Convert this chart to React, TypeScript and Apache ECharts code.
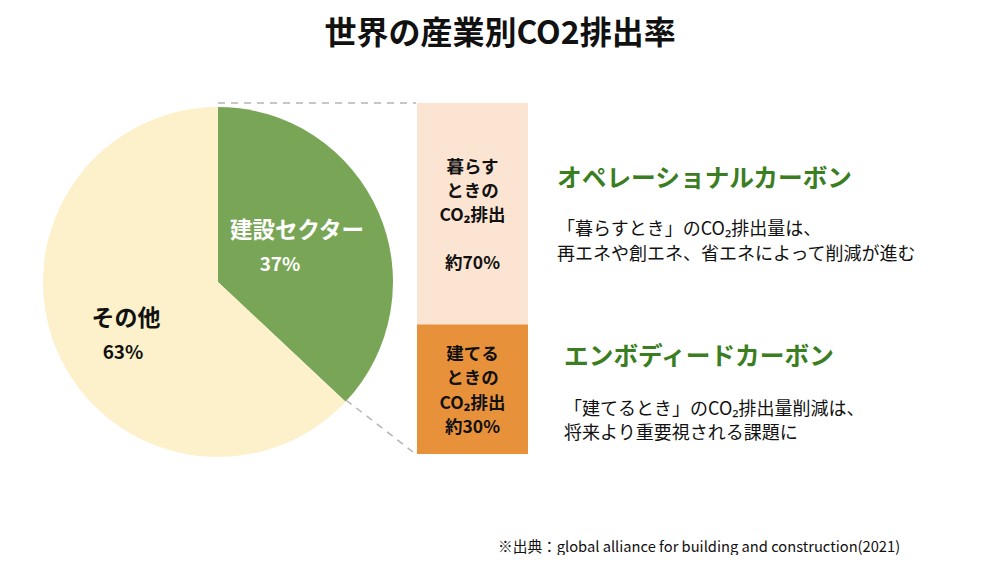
import React, { useEffect, useRef } from "react";
import * as echarts from "echarts";

const title = "世界の産業別CO2排出率";
const pieNames = ["建設セクター", "その他"];
const pieValues = [37, 63];
const pieColors = ["#79a656", "#fdf1cc"];
const barNames = ["建てるときのCO₂排出", "暮らすときのCO₂排出"];
const barShares = ["約30%", "約70%"];
const barHeights = [37, 63]; // drawn proportions in the picture
const barColors = ["#e8913b", "#fce4d2"];
const headings = ["オペレーショナルカーボン", "エンボディードカーボン"];
const descriptions = [
  ["「暮らすとき」のCO₂排出量は、", "再エネや創エネ、省エネによって削減が進む"],
  ["「建てるとき」のCO₂排出量削減は、", "将来より重要視される課題に"],
];
const source = "※出典：global alliance for building and construction(2021)";

const FONT = "'Noto Sans CJK JP', 'Noto Sans', sans-serif";

export default function App() {
  const ref = useRef<HTMLDivElement>(null);
  useEffect(() => {
    if (!ref.current) return;
    const chart = echarts.init(ref.current, null, { renderer: "svg" });
    const dash = { stroke: "#b5b5b5", lineWidth: 1.5, lineDash: [7, 6] };
    const txt = (x: number, y: number, style: any) => ({
      type: "text",
      x,
      y,
      z: 100,
      style: { fontFamily: FONT, verticalAlign: "middle", ...style },
    });
    chart.setOption({
      animation: false,
      backgroundColor: "#ffffff",
      title: {
        text: title,
        left: "center",
        top: 9,
        textStyle: { fontFamily: FONT, fontSize: 32, fontWeight: "bold", color: "#111" },
      },
      grid: { left: 417, top: 103, width: 111, height: 351 },
      xAxis: { type: "category", data: ["建設"], show: false },
      yAxis: { type: "value", min: 0, max: 100, show: false },
      series: [
        {
          type: "pie",
          center: [218, 282],
          radius: 175,
          startAngle: 90,
          clockwise: true,
          silent: true,
          label: { show: false },
          labelLine: { show: false },
          data: pieNames.map((n, i) => ({
            name: n,
            value: pieValues[i],
            itemStyle: { color: pieColors[i] },
          })),
        },
        {
          type: "bar",
          stack: "s",
          barWidth: "100%",
          data: [barHeights[0]],
          itemStyle: { color: barColors[0] },
          label: {
            show: true,
            position: "inside",
            formatter: "建てる\nときの\nCO₂排出\n" + barShares[0],
            fontFamily: FONT,
            fontSize: 17.5,
            fontWeight: "bold",
            color: "#111",
            lineHeight: 24.5,
            align: "center",
          },
        },
        {
          type: "bar",
          stack: "s",
          barWidth: "100%",
          data: [barHeights[1]],
          itemStyle: { color: barColors[1] },
          label: {
            show: true,
            position: "inside",
            formatter: "暮らす\nときの\nCO₂排出\n\n" + barShares[1],
            fontFamily: FONT,
            fontSize: 17.5,
            fontWeight: "bold",
            color: "#111",
            lineHeight: 24,
            align: "center",
          },
        },
      ],
      graphic: [
        { type: "line", z: 100, shape: { x1: 218, y1: 103, x2: 416, y2: 103 }, style: dash },
        { type: "line", z: 100, shape: { x1: 346, y1: 400, x2: 413, y2: 452 }, style: dash },
        txt(230, 228, { text: pieNames[0], fontSize: 22.5, fontWeight: "bold", fill: "#fff" }),
        txt(280, 262, { text: pieValues[0] + "%", fontSize: 19, fontWeight: "bold", fill: "#fff", align: "center" }),
        txt(126, 316, { text: pieNames[1], fontSize: 23, fontWeight: "bold", fill: "#111", align: "center" }),
        txt(123, 350, { text: pieValues[1] + "%", fontSize: 19, fontWeight: "bold", fill: "#111", align: "center" }),
        txt(557, 176, { text: headings[0], fontSize: 24.7, fontWeight: "bold", fill: "#3b7e22" }),
        txt(557, 227, { text: descriptions[0][0], fontSize: 18, fill: "#111" }),
        txt(557, 252, { text: descriptions[0][1], fontSize: 18, fill: "#111" }),
        txt(564, 354, { text: headings[1], fontSize: 24.7, fontWeight: "bold", fill: "#3b7e22" }),
        txt(564, 407, { text: descriptions[1][0], fontSize: 18, fill: "#111" }),
        txt(564, 431, { text: descriptions[1][1], fontSize: 18, fill: "#111" }),
        txt(498, 545, { text: source, fontSize: 14.7, fill: "#111" }),
      ],
    });
    return () => chart.dispose();
  }, []);
  return <div ref={ref} style={{ width: 1000, height: 563, margin: -8 }} />;
}
